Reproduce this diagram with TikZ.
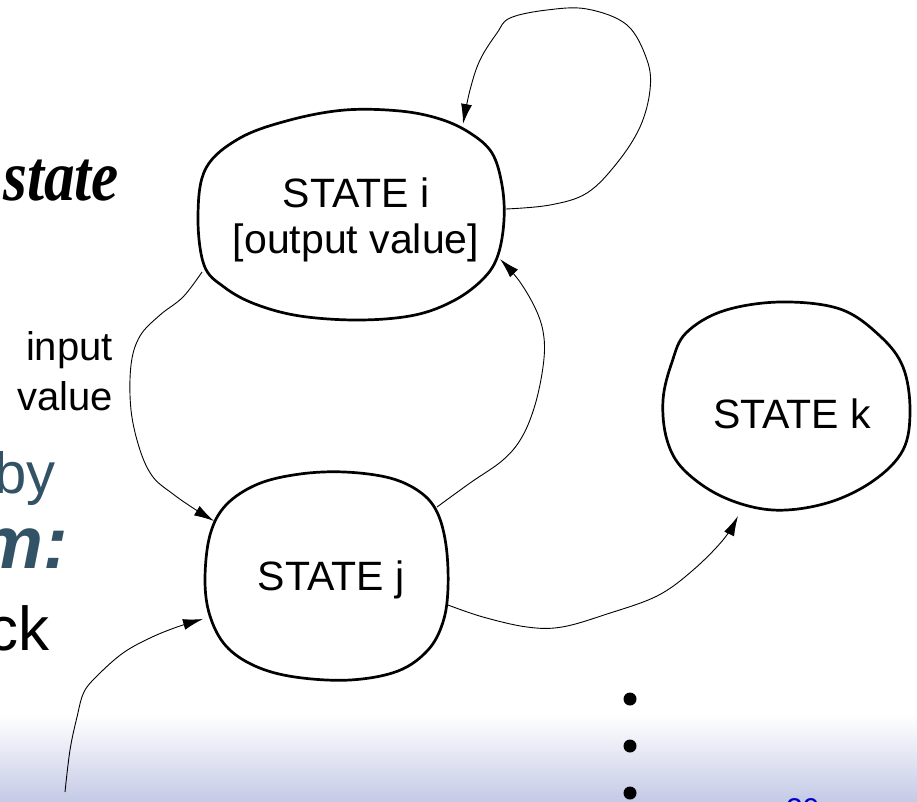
\documentclass[tikz,border=0pt]{standalone}
\usepackage{fontspec}
\setmainfont{Liberation Sans}
\newfontfamily\timesbi[FakeStretch=0.85]{Liberation Serif}
\usetikzlibrary{arrows.meta}
\definecolor{slideblue}{RGB}{50,82,102}
\definecolor{bandcol}{RGB}{197,202,230}
\definecolor{pagenum}{RGB}{0,0,200}

\begin{document}
\begin{tikzpicture}[x=1pt,y=-1pt,
  blob/.style={line width=2.7pt, line join=round, smooth cycle, tension=0.6},
  conn/.style={line width=0.9pt, -{Latex[length=20pt,width=11pt]}},
  statelbl/.style={font=\fontsize{41}{46}\selectfont, align=center, inner sep=0pt},
  edgelbl/.style={font=\fontsize{40}{46}\selectfont, inner sep=0pt, anchor=base east},
  slidetxt/.style={inner sep=0pt, anchor=base east}]
\useasboundingbox (0,0) rectangle (917,801);
\clip (0,0) rectangle (917,801);

% footer band
\fill[top color=white, bottom color=bandcol] (0,715) rectangle (917,801);

% slide text fragments on the left
\node[slidetxt, font=\timesbi\bfseries\itshape\fontsize{72}{78}\selectfont] (t1) at (119,200) {state};
\node[slidetxt, text=slideblue, font=\fontsize{58}{64}\selectfont] (t2) at (56,493) {by};
\node[slidetxt, text=slideblue, font=\bfseries\itshape\fontsize{74}{80}\selectfont] (t3) at (68,568) {m:};
\node[slidetxt, font=\fontsize{62}{68}\selectfont] (t4) at (50,650) {ck};

% page number
\node[anchor=base west, inner sep=0pt, text=pagenum, font=\fontsize{30}{34}\selectfont] (pg) at (786,819) {29};

% state outlines
\draw[blob] plot coordinates {(198,215) (206,168) (240,138) (290,120) (345,110) (400,111)
  (440,119) (470,133) (492,153) (502,185) (504,220) (498,255) (484,278) (455,300)
  (415,315) (360,320) (300,316) (255,304) (224,287) (204,265)};
\draw[blob] plot coordinates {(205,580) (210,535) (226,505) (258,484) (300,474) (345,472)
  (390,478) (420,492) (437,512) (446,545) (448,588) (443,622) (428,650) (398,671)
  (350,680) (295,677) (255,666) (226,646) (210,616)};
\draw[blob] plot coordinates {(663,400) (672,362) (686,333) (723,311) (780,302) (840,309)
  (880,336) (903,367) (910,410) (903,450) (873,481) (827,503) (773,510) (723,497)
  (684,470) (667,440)};

% state labels
\node[statelbl] (si) at (356,220) {STATE i\\{[}output value{]}};
\node[statelbl, anchor=base] (sj) at (331,590) {STATE j};
\node[statelbl, anchor=base] (sk) at (792,428) {STATE k};

% connector end points on the outlines
\coordinate (iLoopOut) at (506,209);
\coordinate (iLoopIn) at (463,124);
\coordinate (iLow) at (202,272);
\coordinate (jIn) at (214,521);
\coordinate (jUp) at (437,507);
\coordinate (iIn) at (500,259);
\coordinate (jRight) at (448,605);
\coordinate (kIn) at (738,516);
\coordinate (extStart) at (65,792);
\coordinate (jInLow) at (203,619);

% connectors
\draw[conn] plot[smooth, tension=0.6] coordinates {(iLoopOut) (550,205) (587,193) (617,163)
  (640,127) (650,90) (647,60) (627,25) (587,9) (547,10) (510,18) (497,33) (480,60)
  (470,90) (iLoopIn)};
\draw[conn] plot[smooth, tension=0.6] coordinates {(iLow) (183,297) (160,315) (140,336)
  (131,365) (131,410) (140,450) (153,477) (173,494) (193,508) (jIn)};
\draw[conn] plot[smooth, tension=0.6] coordinates {(jUp) (470,483) (503,460) (522,437)
  (535,405) (543,367) (544,338) (537,312) (520,282) (iIn)};
\draw[conn] plot[smooth, tension=0.6] coordinates {(jRight) (483,617) (527,627) (562,627)
  (607,614) (657,596) (692,571) (723,540) (kIn)};
\draw[conn] plot[smooth, tension=0.6] coordinates {(extStart) (70,750) (77,717) (84,692)
  (98,675) (123,653) (150,638) (177,627) (jInLow)};

% edge label
\node[edgelbl] (lb1) at (113,360) {input};
\node[edgelbl] (lb2) at (113,410) {value};

% continuation dots
\foreach \yy [count=\n] in {699,746,793}
  \fill (630,\yy) circle[radius=6.5pt] coordinate (dot\n);
\end{tikzpicture}
\end{document}
